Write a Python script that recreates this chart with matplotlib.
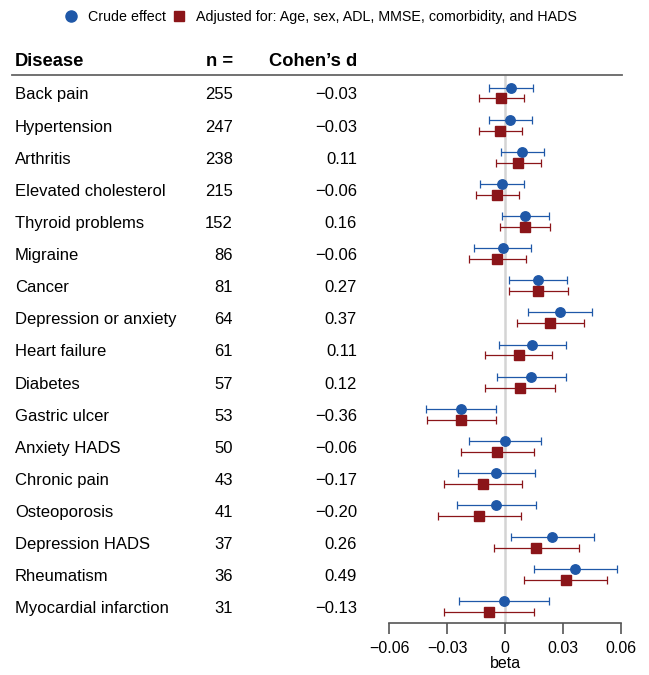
import matplotlib.pyplot as plt
from matplotlib.lines import Line2D
import matplotlib.transforms as mtransforms

plt.rcParams['font.family'] = ['Liberation Sans', 'DejaVu Sans']

diseases = ['Back pain', 'Hypertension', 'Arthritis', 'Elevated cholesterol',
            'Thyroid problems', 'Migraine', 'Cancer', 'Depression or anxiety',
            'Heart failure', 'Diabetes', 'Gastric ulcer', 'Anxiety HADS',
            'Chronic pain', 'Osteoporosis', 'Depression HADS', 'Rheumatism',
            'Myocardial infarction']
n_vals = [255, 247, 238, 215, 152, 86, 81, 64, 61, 57, 53, 50, 43, 41, 37, 36, 31]
cohens_d = ['\u22120.03', '\u22120.03', '0.11', '\u22120.06', '0.16', '\u22120.06',
            '0.27', '0.37', '0.11', '0.12', '\u22120.36', '\u22120.06', '\u22120.17',
            '\u22120.20', '0.26', '0.49', '\u22120.13']

crude = [0.0031, 0.0028, 0.0090, -0.0014, 0.0104, -0.0012, 0.0171, 0.0285, 0.0142,
         0.0136, -0.0230, 0.0000, -0.0047, -0.0045, 0.0244, 0.0364, -0.0003]
crude_lo = [-0.0083, -0.0085, -0.0023, -0.0128, -0.0017, -0.0161, 0.0019, 0.0119, -0.0029,
            -0.0040, -0.0411, -0.0187, -0.0245, -0.0250, 0.0033, 0.0149, -0.0237]
crude_hi = [0.0143, 0.0142, 0.0202, 0.0100, 0.0226, 0.0136, 0.0323, 0.0451, 0.0314,
            0.0313, -0.0047, 0.0188, 0.0157, 0.0159, 0.0458, 0.0580, 0.0230]

adj = [-0.0019, -0.0024, 0.0069, -0.0040, 0.0104, -0.0040, 0.0173, 0.0235, 0.0071,
       0.0078, -0.0228, -0.0040, -0.0112, -0.0133, 0.0162, 0.0313, -0.0081]
adj_lo = [-0.0133, -0.0137, -0.0045, -0.0152, -0.0024, -0.0188, 0.0021, 0.0062, -0.0104,
          -0.0104, -0.0406, -0.0230, -0.0316, -0.0345, -0.0059, 0.0097, -0.0318]
adj_hi = [0.0097, 0.0090, 0.0185, 0.0074, 0.0233, 0.0109, 0.0326, 0.0408, 0.0245,
          0.0259, -0.0048, 0.0149, 0.0090, 0.0081, 0.0385, 0.0530, 0.0150]

xticks = [-0.06, -0.03, 0, 0.03, 0.06]
xticklabels = ['\u22120.06', '\u22120.03', '0', '0.03', '0.06']

blue = '#1f58a8'
red = '#8b1519'

W, H = 649, 675
fig = plt.figure(figsize=(W / 100, H / 100), dpi=100)
ax = fig.add_axes([389 / W, 1 - 623 / H, 232 / W, 548 / H])

rows = list(range(len(diseases)))
yb = [r - 0.17 for r in rows]
yr = [r + 0.17 for r in rows]

ax.axvline(0, color='#d4d4d4', lw=1.8, zorder=0)
ax.errorbar(crude, yb,
            xerr=[[c - l for c, l in zip(crude, crude_lo)], [h - c for c, h in zip(crude, crude_hi)]],
            fmt='o', color=blue, ms=6.8, elinewidth=0.9, capsize=2.6, capthick=0.9)
ax.errorbar(adj, yr,
            xerr=[[c - l for c, l in zip(adj, adj_lo)], [h - c for c, h in zip(adj, adj_hi)]],
            fmt='s', color=red, ms=6.6, elinewidth=0.9, capsize=2.6, capthick=0.9)

ax.set_xlim(-0.06, 0.06)
ax.set_ylim(16.5, -0.56)
ax.set_yticks([])
for s in ['top', 'right', 'left']:
    ax.spines[s].set_visible(False)
ax.spines['bottom'].set_color('#555555')
ax.spines['bottom'].set_linewidth(1.2)
ax.set_xticks(xticks)
ax.set_xticklabels(xticklabels, fontsize=11.5)
ax.tick_params(axis='x', length=8, width=1.2, color='#555555', pad=5)
ax.set_xlabel('beta', fontsize=11.5, labelpad=0)

# table text
tr = mtransforms.blended_transform_factory(fig.transFigure, ax.transData)
for i, (d, n, c) in enumerate(zip(diseases, n_vals, cohens_d)):
    ty = i + 0.06
    ax.text(15 / W, ty, d, transform=tr, fontsize=12, va='center', ha='left')
    ax.text(233 / W, ty, str(n), transform=tr, fontsize=12, va='center', ha='right')
    ax.text(357 / W, ty, c, transform=tr, fontsize=12, va='center', ha='right')

hy = 1 - 61 / H
fig.text(15 / W, hy, 'Disease', fontsize=13.2, fontweight='bold', va='center', ha='left')
fig.text(233 / W, hy, 'n =', fontsize=13.2, fontweight='bold', va='center', ha='right')
fig.text(357 / W, hy, 'Cohen\u2019s d', fontsize=13.2, fontweight='bold', va='center', ha='right')
fig.add_artist(Line2D([12 / W, 622 / W], [1 - 75 / H, 1 - 75 / H], transform=fig.transFigure,
                      color='#666666', lw=1.3))

handles = [Line2D([], [], ls='none', marker='o', color=blue, ms=8),
           Line2D([], [], ls='none', marker='s', color=red, ms=7.5)]
labels = ['Crude effect', 'Adjusted for: Age, sex, ADL, MMSE, comorbidity, and HADS']
fig.legend(handles, labels, loc='center', bbox_to_anchor=(321 / W, 1 - 17 / H), ncol=2,
           frameon=False, fontsize=10.3, handlelength=0.8, handletextpad=0.8, columnspacing=0.5)

fig.savefig('out.png', dpi=100)
